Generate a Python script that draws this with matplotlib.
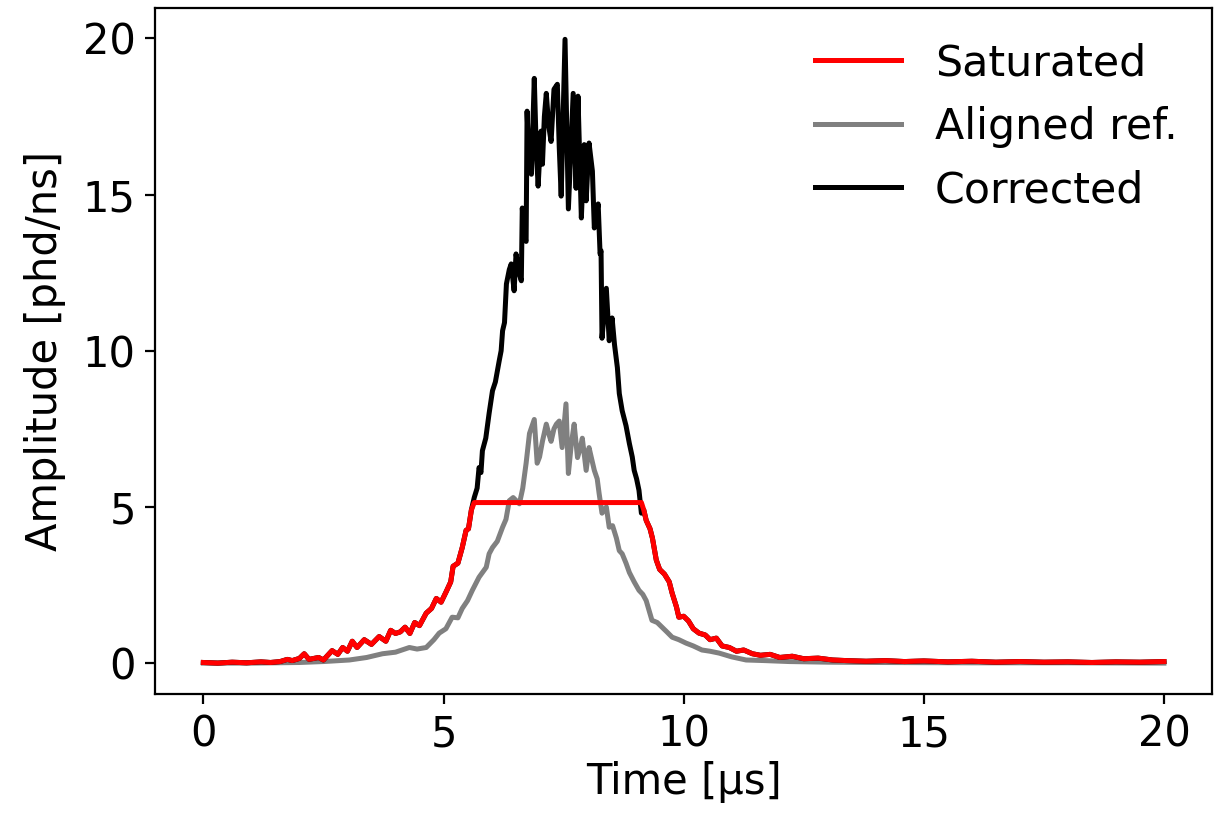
import matplotlib
matplotlib.use("Agg")
import matplotlib.pyplot as plt

plt.rcParams['font.size'] = 15

# Saturated pulse (clipped at ~5.14 phd/ns)
t_sat = [0.0, 0.3, 0.6, 0.9, 1.2, 1.4, 1.6, 1.75, 1.85, 2.0, 2.1, 2.2, 2.4, 2.5,
         2.68, 2.8, 2.9, 3.0, 3.1, 3.2, 3.35, 3.5, 3.66, 3.8, 3.9, 4.0, 4.1, 4.2,
         4.3, 4.4, 4.5, 4.64, 4.75, 4.85, 4.95, 5.06, 5.15, 5.2, 5.3, 5.39, 5.47,
         5.52, 5.58, 5.64,
         9.12, 9.17, 9.22, 9.3, 9.35, 9.43, 9.5, 9.6, 9.7, 9.76, 9.85, 9.9, 10.0,
         10.1, 10.2, 10.32, 10.45, 10.55, 10.68, 10.8, 10.95, 11.1, 11.25, 11.43,
         11.6, 11.8, 12.0, 12.26, 12.5, 12.8, 13.1, 13.4, 13.8, 14.2, 14.6, 15.0,
         15.5, 16.0, 16.5, 17.0, 17.5, 18.0, 18.5, 19.0, 19.5, 20.0]
y_sat = [0.02, 0.0, 0.03, 0.01, 0.04, 0.02, 0.05, 0.12, 0.08, 0.15, 0.3, 0.12, 0.18, 0.1,
         0.4, 0.28, 0.5, 0.38, 0.7, 0.5, 0.75, 0.6, 0.85, 0.7, 1.05, 0.95, 1.0, 1.15,
         0.95, 1.3, 1.2, 1.6, 1.75, 2.07, 1.95, 2.3, 2.6, 3.1, 3.2, 3.7, 4.25,
         4.3, 4.9, 5.14,
         5.14, 4.9, 4.57, 4.3, 4.0, 3.3, 3.0, 2.85, 2.6, 2.24, 1.8, 1.47, 1.5,
         1.35, 1.1, 0.96, 0.9, 0.75, 0.8, 0.55, 0.5, 0.38, 0.42, 0.3,
         0.25, 0.28, 0.18, 0.22, 0.14, 0.16, 0.1, 0.08, 0.06, 0.08, 0.05, 0.07,
         0.04, 0.06, 0.03, 0.05, 0.03, 0.04, 0.02, 0.04, 0.03, 0.05]

# Aligned reference pulse
t_ref = [0.0, 1.0, 2.0, 2.5, 3.04, 3.4, 3.73, 4.0, 4.29, 4.45, 4.64, 4.8, 4.91, 5.05,
         5.18, 5.3, 5.39, 5.5, 5.6, 5.74, 5.89, 5.95, 6.02, 6.12, 6.23, 6.3, 6.37,
         6.45, 6.58, 6.65, 6.72, 6.79, 6.89, 6.95, 7.0, 7.06, 7.14, 7.2, 7.24, 7.3,
         7.35, 7.41, 7.47, 7.55, 7.6, 7.66, 7.72, 7.79, 7.85, 7.89, 7.97, 8.03, 8.09,
         8.14, 8.2, 8.24, 8.3, 8.39, 8.45, 8.52, 8.6, 8.66, 8.72, 8.8, 8.87, 8.97,
         9.07, 9.15, 9.22, 9.34, 9.45, 9.55, 9.65, 9.76, 9.9, 10.05, 10.2, 10.38,
         10.55, 10.74, 11.0, 11.3, 11.7, 12.2, 13.0, 14.0, 16.0, 18.0, 20.0]
y_ref = [0.0, 0.0, 0.02, 0.05, 0.1, 0.18, 0.3, 0.35, 0.5, 0.45, 0.5, 0.75, 0.96, 1.1,
         1.47, 1.45, 1.75, 2.0, 2.33, 2.75, 3.07, 3.5, 3.7, 3.9, 4.35, 4.6, 5.2,
         5.3, 5.1, 5.6, 6.4, 7.35, 7.8, 6.4, 6.6, 7.1, 7.65, 7.3, 7.1, 7.5,
         7.65, 7.75, 6.9, 8.3, 6.07, 7.0, 7.65, 6.58, 6.9, 7.2, 6.17, 6.9, 6.5,
         6.17, 5.9, 5.43, 4.8, 5.0, 4.35, 4.4, 4.0, 3.6, 3.5, 3.2, 2.9, 2.6,
         2.33, 2.2, 2.0, 1.37, 1.3, 1.15, 1.0, 0.83, 0.75, 0.64, 0.55, 0.42,
         0.38, 0.32, 0.2, 0.1, 0.08, 0.05, 0.03, 0.02, 0.01, 0.01, 0.0]

# Corrected pulse inside the saturated window
t_peak = [5.64, 5.7, 5.74, 5.78, 5.81, 5.88, 5.95, 6.02, 6.08, 6.16, 6.2, 6.23, 6.27,
          6.31, 6.37, 6.41, 6.47, 6.51, 6.57, 6.62, 6.64, 6.69, 6.72, 6.74, 6.78,
          6.83, 6.89, 6.93, 6.97, 7.03, 7.06, 7.1, 7.14, 7.19, 7.24, 7.3, 7.37, 7.41,
          7.45, 7.53, 7.6, 7.66, 7.7, 7.76, 7.8, 7.87, 7.93, 7.97, 8.03, 8.1, 8.14,
          8.22, 8.26, 8.28, 8.3, 8.39, 8.45, 8.51, 8.56, 8.62, 8.66, 8.72, 8.8, 8.87,
          8.93, 8.97, 9.02, 9.07, 9.12]
y_peak = [5.3, 5.6, 6.26, 6.1, 6.8, 7.2, 8.0, 8.72, 9.0, 9.68, 10.0, 10.64, 10.9,
          12.14, 12.6, 12.78, 11.92, 13.1, 12.5, 12.24, 14.57, 13.6, 13.5, 17.67, 16.0,
          15.65, 18.72, 16.5, 15.27, 17.03, 15.97, 17.5, 18.24, 17.2, 16.7, 18.37, 18.53, 16.5,
          14.95, 19.97, 14.54, 16.8, 18.24, 15.2, 18.15, 14.25, 16.6, 14.8, 16.65, 15.75, 13.93,
          14.7, 13.1, 13.2, 10.4, 12.0, 10.32, 11.05, 10.2, 9.46, 8.63, 8.08, 7.6, 7.03,
          6.6, 6.17, 5.9, 5.53, 4.8]

# corrected = saturated outside the window, reconstructed peak inside
t_cor = [t for t in t_sat if t < t_peak[0]] + t_peak + [t for t in t_sat if t > t_peak[-1]]
y_cor = ([y for t, y in zip(t_sat, y_sat) if t < t_peak[0]] + y_peak
         + [y for t, y in zip(t_sat, y_sat) if t > t_peak[-1]])

fig = plt.figure(figsize=(6.115, 4.065), dpi=200)
ax = fig.add_axes([0.127, 0.146, 0.864, 0.844])

l_ref, = ax.plot(t_ref, y_ref, color='gray', lw=1.8, label='Aligned ref.')
l_cor, = ax.plot(t_cor, y_cor, color='black', lw=1.8, label='Corrected')
l_sat, = ax.plot(t_sat, y_sat, color='red', lw=1.8, label='Saturated')

ax.set_xlabel("Time [µs]", labelpad=2)
ax.set_ylabel("Amplitude [phd/ns]", labelpad=6)
ax.set_xticks([0, 5, 10, 15, 20])
ax.set_yticks([0, 5, 10, 15, 20])
ax.legend(handles=[l_sat, l_ref, l_cor], loc='upper right', frameon=False,
          fontsize=15.4, handlelength=2.0, borderaxespad=0.4)

fig.savefig("out.png", dpi=200)
